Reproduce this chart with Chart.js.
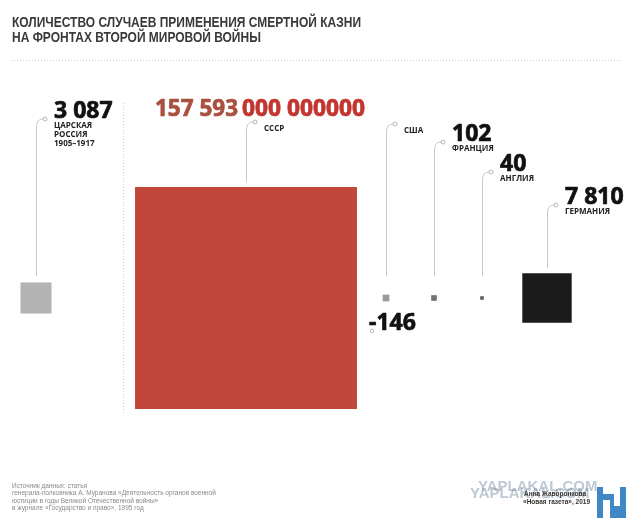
<!DOCTYPE html>
<html>
<head>
<meta charset="utf-8">
<script src="https://cdn.jsdelivr.net/npm/chart.js@4.4.1/dist/chart.umd.min.js"></script>
<style>
html,body{margin:0;padding:0;background:#fff;}
#wrap{width:633px;height:523px;position:relative;}
</style>
</head>
<body>
<div id="wrap"><canvas id="c"></canvas></div>
<script>
// ---- data ----
const countries = ['ЦАРСКАЯ\nРОССИЯ\n1905–1917', 'СССР', 'США', 'ФРАНЦИЯ', 'АНГЛИЯ', 'ГЕРМАНИЯ'];
const executions = [3087, 157593, 146, 102, 40, 7810];
const valueLabels = ['3 087', '157 593', '-146', '102', '40', '7 810'];
const squareColors = ['#b3b3b3', '#c0473a', '#9a9a9a', '#727272', '#5a5a5a', '#1b1b1b'];

// ---- layout (not data) ----
const slotX = [36, 246, 386, 434, 482, 547];      // centre of each square on the x scale
const anchorY = [119, 122, 124, 142, 172, 205];   // y of the leader-line label anchor
const sidePerSqrt = 0.559;                        // square side (px) per sqrt(value)
const titleLines = ['КОЛИЧЕСТВО СЛУЧАЕВ ПРИМЕНЕНИЯ СМЕРТНОЙ КАЗНИ', 'НА ФРОНТАХ ВТОРОЙ МИРОВОЙ ВОЙНЫ'];
const sourceLines = ['Источник данных: статья',
  'генерала-полковника А. Муранова «Деятельность органов военной',
  'юстиции в годы Великой Отечественной войны»',
  'в журнале «Государство и право», 1995 год'];
const creditLines = ['Анна Жаворонкова', '«Новая газета», 2019'];

const points = executions.map((v, i) => ({x: slotX[i], y: 0, r: sidePerSqrt * Math.sqrt(v) / Math.SQRT2}));

const NUM_FONT = 'bold 23px "Open Sans", sans-serif';

function heavyText(ctx, text, x, y, maxW) {
  ctx.lineWidth = 0.7;
  ctx.lineJoin = 'round';
  ctx.strokeStyle = ctx.fillStyle;
  if (maxW) { ctx.fillText(text, x, y, maxW); ctx.strokeText(text, x, y, maxW); }
  else { ctx.fillText(text, x, y); ctx.strokeText(text, x, y); }
}

const decor = {
  id: 'decor',
  beforeDatasetsDraw(chart) {
    const ctx = chart.ctx;
    ctx.save();
    ctx.fillStyle = '#3a3a3a';
    ctx.font = 'bold 15px "Liberation Sans", Arial, sans-serif';
    ctx.textBaseline = 'alphabetic';
    const w1 = ctx.measureText(titleLines[0]).width;
    const sx = 349 / w1;
    ctx.save(); ctx.translate(12, 27); ctx.scale(sx, 1); ctx.fillText(titleLines[0], 0, 0); ctx.restore();
    ctx.save(); ctx.translate(12, 42); ctx.scale(sx, 1); ctx.fillText(titleLines[1], 0, 0); ctx.restore();
    ctx.fillStyle = '#d0d0d0';
    for (let x = 11; x < 622; x += 3) ctx.fillRect(x, 60, 1, 1);
    for (let y = 103; y < 415; y += 3) ctx.fillRect(123, y, 1, 1);
    ctx.restore();
  },
  afterDatasetsDraw(chart) {
    const ctx = chart.ctx;
    const meta = chart.getDatasetMeta(0);
    ctx.save();
    meta.data.forEach((el, i) => {
      const lx = Math.round(el.x);
      const half = el.options.radius * Math.SQRT1_2;
      const top = el.y - half;
      const bottom = Math.min(top - 5, 276);
      const ay = anchorY[i];
      ctx.strokeStyle = '#c9c9c9';
      ctx.lineWidth = 1;
      ctx.beginPath();
      ctx.moveTo(lx + 0.5, bottom);
      ctx.lineTo(lx + 0.5, ay + 8);
      ctx.quadraticCurveTo(lx + 0.5, ay, lx + 7, ay);
      ctx.stroke();
      ctx.beginPath();
      ctx.arc(lx + 9, ay, 2, 0, Math.PI * 2);
      ctx.fillStyle = '#fff'; ctx.fill();
      ctx.strokeStyle = '#b5b5b5'; ctx.stroke();
      const tx = lx + 18;
      ctx.fillStyle = '#222';
      ctx.font = 'bold 8px "Open Sans", sans-serif';
      ctx.textBaseline = 'alphabetic';
      countries[i].split('\n').forEach((line, k) => {
        ctx.fillText(line, tx, ay + 9 + k * 9);
      });
      ctx.font = NUM_FONT;
      if (i === 1) {
        ctx.fillStyle = '#a9503f';
        heavyText(ctx, valueLabels[i], 155, ay - 6, 83);
        ctx.fillStyle = '#c3352f';
        heavyText(ctx, '000 000000', 242, ay - 6, 123);
      } else if (i === 2) {
        ctx.fillStyle = '#111';
        heavyText(ctx, valueLabels[i], 369, 330, 48);
        ctx.lineWidth = 1;
        ctx.beginPath();
        ctx.arc(372, 331, 1.8, 0, Math.PI * 2);
        ctx.strokeStyle = '#bbb'; ctx.stroke();
      } else {
        ctx.fillStyle = '#111';
        heavyText(ctx, valueLabels[i], tx, ay - 1);
      }
    });
    ctx.fillStyle = '#8a8a8a';
    ctx.font = '6.5px "Liberation Sans", Arial, sans-serif';
    sourceLines.forEach((l, k) => ctx.fillText(l, 12, 488 + k * 7.3));
    ctx.font = 'bold 15px "Liberation Sans", Arial, sans-serif';
    ctx.fillStyle = 'rgba(110,135,160,0.45)';
    ctx.fillText('YAPLAKAL.COM', 478, 491, 135);
    ctx.fillText('YAPLAKAL.COM', 470, 498, 135);
    ctx.fillStyle = '#3f88c5';
    ctx.fillRect(597, 487, 29, 31);
    ctx.fillStyle = '#fff';
    ctx.fillRect(603, 500, 7, 18);
    ctx.fillRect(603, 487, 17, 7);
    ctx.fillRect(614, 494, 6, 12);
    ctx.fillStyle = '#333';
    ctx.font = 'bold 6.5px "Liberation Sans", Arial, sans-serif';
    ctx.textAlign = 'right';
    ctx.fillText(creditLines[0], 586, 496);
    ctx.fillText(creditLines[1], 590, 504);
    ctx.restore();
  }
};

new Chart(document.getElementById('c'), {
  type: 'bubble',
  data: {
    datasets: [{
      data: points,
      backgroundColor: squareColors,
      borderColor: squareColors,
      borderWidth: 0,
      pointStyle: 'rect',
      hoverRadius: 0,
      clip: false
    }]
  },
  options: {
    responsive: true,
    maintainAspectRatio: false,
    animation: false,
    events: [],
    layout: {padding: 0, autoPadding: false},
    plugins: {legend: {display: false}, tooltip: {enabled: false}},
    scales: {
      x: {type: 'linear', min: 0, max: 633, display: false},
      y: {type: 'linear', min: -225, max: 298, display: false}
    }
  },
  plugins: [decor]
});
</script>
</body>
</html>
